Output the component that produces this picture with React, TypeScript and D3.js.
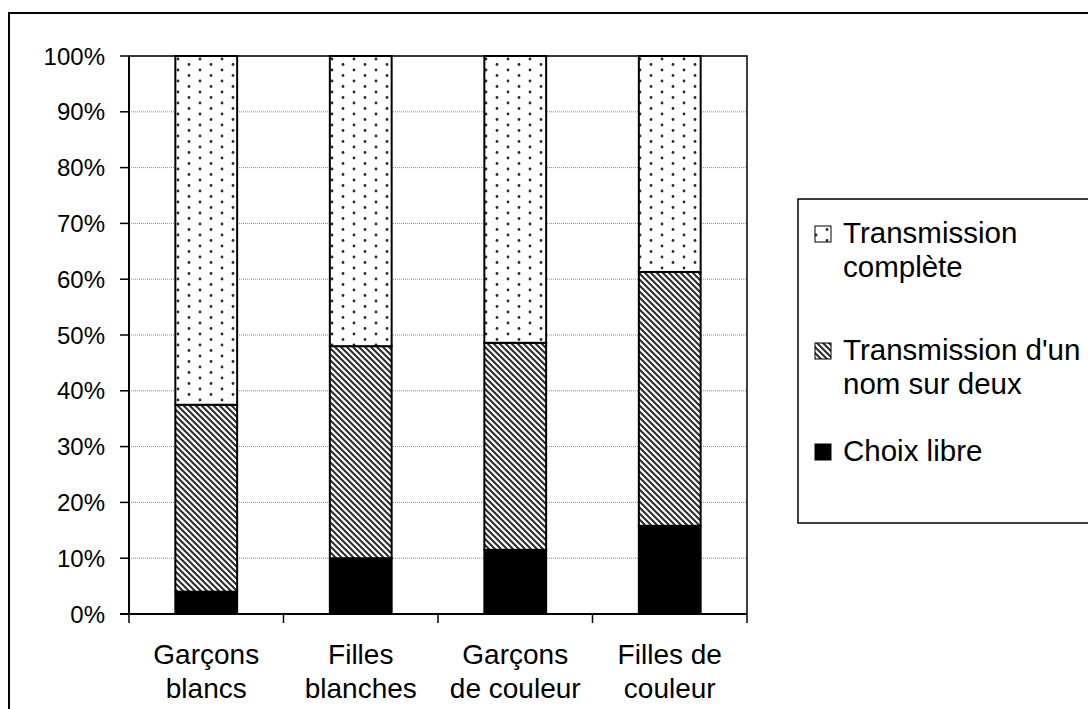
import React, { useRef, useEffect } from "react";
import * as d3 from "d3";

const categories = [
    ["Garçons", "blancs"],
    ["Filles", "blanches"],
    ["Garçons", "de couleur"],
    ["Filles de", "couleur"],
];
const choixLibre = [4, 10, 11.5, 15.8];
const demiTransmission = [33.5, 38, 37.1, 45.5];
const transmissionComplete = [62.5, 52, 51.4, 38.7];
const yTicks = [0, 10, 20, 30, 40, 50, 60, 70, 80, 90, 100];
const legendItems = [
    { key: "complete", lines: ["Transmission", "complète"] },
    { key: "demi", lines: ["Transmission d'un", "nom sur deux"] },
    { key: "choix", lines: ["Choix libre"] },
];

const FONT = "'Liberation Sans', Arial, sans-serif";

const App = () => {
    const svgRef = useRef(null);

    useEffect(() => {
        const width = 1088;
        const height = 709;
        const plot = { left: 129, right: 747, top: 56, bottom: 614 };

        const svg = d3.select(svgRef.current).attr("width", width).attr("height", height);
        svg.selectAll("*").remove();

        const defs = svg.append("defs");
        // dotted pattern for "Transmission complète"
        const dots = defs
            .append("pattern")
            .attr("id", "dots")
            .attr("patternUnits", "userSpaceOnUse")
            .attr("width", 22)
            .attr("height", 11)
            .attr("x", 175)
            .attr("y", 56);
        dots.append("rect").attr("width", 22).attr("height", 11).attr("fill", "#fff");
        dots.append("circle").attr("cx", 3).attr("cy", 3).attr("r", 1.4).attr("fill", "#2a2a2a");
        dots.append("circle").attr("cx", 14).attr("cy", 8.5).attr("r", 1.4).attr("fill", "#2a2a2a");

        // diagonal hatch for "Transmission d'un nom sur deux"
        const hatch = defs
            .append("pattern")
            .attr("id", "hatch")
            .attr("patternUnits", "userSpaceOnUse")
            .attr("width", 6)
            .attr("height", 6);
        hatch.append("rect").attr("width", 6).attr("height", 6).attr("fill", "#fff");
        hatch.append("path")
            .attr("d", "M-1,-1 L7,7 M-1,5 L1,7 M5,-1 L7,1")
            .attr("stroke", "#2a2a2a")
            .attr("stroke-width", 2);

        const fills: any = { complete: "url(#dots)", demi: "url(#hatch)", choix: "#000" };

        // outer chart border
        svg.append("rect")
            .attr("x", 9)
            .attr("y", 13)
            .attr("width", 1200)
            .attr("height", 800)
            .attr("fill", "#fff")
            .attr("stroke", "#000")
            .attr("stroke-width", 2);

        const x = d3
            .scaleBand()
            .domain(categories.map((c) => c.join(" ")))
            .range([plot.left, plot.right])
            .paddingInner(0.6)
            .paddingOuter(0.3);
        const y = d3.scaleLinear().domain([0, 100]).range([plot.bottom, plot.top]);

        // gridlines
        svg.append("g")
            .selectAll("line")
            .data(yTicks.slice(1))
            .enter()
            .append("line")
            .attr("x1", plot.left)
            .attr("x2", plot.right)
            .attr("y1", (d) => y(d))
            .attr("y2", (d) => y(d))
            .attr("stroke", "#888")
            .attr("stroke-width", 1)
            .attr("stroke-dasharray", "1,1");

        // right/top plot border
        svg.append("path")
            .attr("d", `M${plot.left},${plot.top} H${plot.right} V${plot.bottom}`)
            .attr("fill", "none")
            .attr("stroke", "#000")
            .attr("stroke-width", 1.5);

        const table = categories.map((c, i) => ({
            cat: c.join(" "),
            choix: choixLibre[i],
            demi: demiTransmission[i],
            complete: transmissionComplete[i],
        }));
        const stack = d3.stack<any>().keys(["choix", "demi", "complete"]);
        const series = stack(table);

        series.forEach((s) => {
            svg.append("g")
                .selectAll("rect")
                .data(s)
                .enter()
                .append("rect")
                .attr("x", (d: any) => x(d.data.cat) as number)
                .attr("width", x.bandwidth())
                .attr("y", (d: any) => y(Math.min(d[1], 100)))
                .attr("height", (d: any) => y(d[0]) - y(Math.min(d[1], 100)))
                .attr("fill", fills[s.key])
                .attr("stroke", "#000")
                .attr("stroke-width", 2);
        });

        // y axis
        const yAxis = svg.append("g");
        yAxis.append("line")
            .attr("x1", plot.left)
            .attr("x2", plot.left)
            .attr("y1", plot.top)
            .attr("y2", plot.bottom)
            .attr("stroke", "#000")
            .attr("stroke-width", 2);
        yTicks.forEach((t) => {
            yAxis.append("line")
                .attr("x1", plot.left - 9)
                .attr("x2", plot.left)
                .attr("y1", y(t))
                .attr("y2", y(t))
                .attr("stroke", "#000")
                .attr("stroke-width", 1.5);
            yAxis.append("text")
                .attr("x", 105)
                .attr("y", y(t) + 8.5)
                .attr("text-anchor", "end")
                .attr("font-family", FONT)
                .attr("font-size", 24)
                .text(`${t}%`);
        });

        // x axis
        const xAxis = svg.append("g");
        xAxis.append("line")
            .attr("x1", plot.left - 9)
            .attr("x2", plot.right)
            .attr("y1", plot.bottom)
            .attr("y2", plot.bottom)
            .attr("stroke", "#000")
            .attr("stroke-width", 2);
        const step = x.step();
        d3.range(categories.length + 1).forEach((i) => {
            const tx = plot.left + i * step;
            xAxis.append("line")
                .attr("x1", tx)
                .attr("x2", tx)
                .attr("y1", plot.bottom)
                .attr("y2", plot.bottom + 9)
                .attr("stroke", "#000")
                .attr("stroke-width", 1.5);
        });
        categories.forEach((c) => {
            const cx = (x(c.join(" ")) as number) + x.bandwidth() / 2;
            c.forEach((line, j) => {
                xAxis.append("text")
                    .attr("x", cx)
                    .attr("y", 664 + j * 34)
                    .attr("text-anchor", "middle")
                    .attr("font-family", FONT)
                    .attr("font-size", 28)
                    .text(line);
            });
        });

        // legend
        const legend = svg.append("g");
        legend.append("rect")
            .attr("x", 798)
            .attr("y", 199)
            .attr("width", 400)
            .attr("height", 324)
            .attr("fill", "#fff")
            .attr("stroke", "#000")
            .attr("stroke-width", 1.5);
        const baselines = [243, 360, 461];
        legendItems.forEach((item, i) => {
            const b = baselines[i];
            legend.append("rect")
                .attr("x", 815)
                .attr("y", b - 17)
                .attr("width", 16)
                .attr("height", 16)
                .attr("fill", fills[item.key])
                .attr("stroke", "#000")
                .attr("stroke-width", 1);
            item.lines.forEach((line, j) => {
                legend.append("text")
                    .attr("x", 843)
                    .attr("y", b + j * 34)
                    .attr("font-family", FONT)
                    .attr("font-size", 29.5)
                    .text(line);
            });
        });
    }, []);

    return (
        <div style={{ position: "absolute", left: 0, top: 0 }}>
            <svg ref={svgRef}></svg>
        </div>
    );
};

export default App;
